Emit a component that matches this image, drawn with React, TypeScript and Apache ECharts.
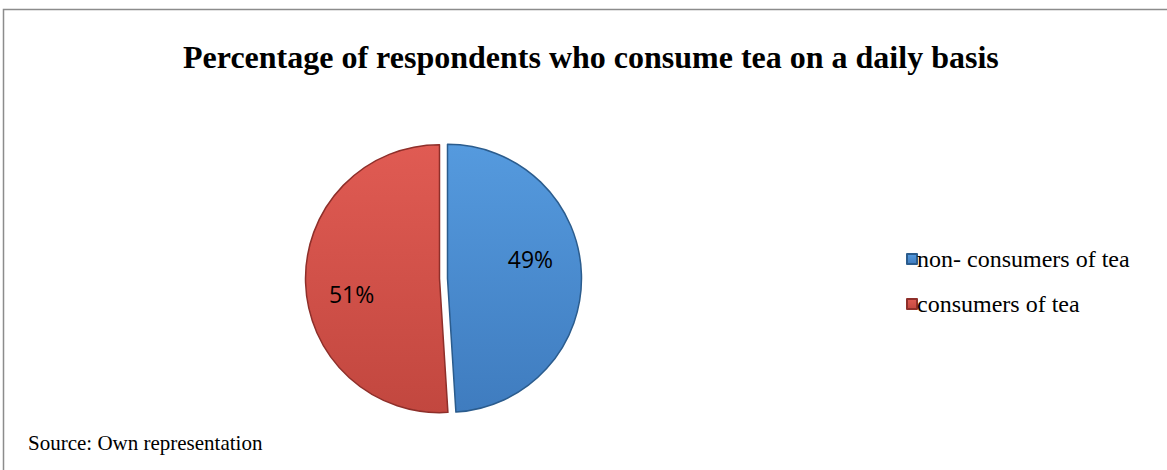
import React, { useEffect, useRef } from "react";
import * as echarts from "echarts";

const TITLE = "Percentage of respondents who consume tea on a daily basis";
const SOURCE = "Source: Own representation";
const categories = ["non- consumers of tea", "consumers of tea"];
const values = [49, 51];

const SERIF = "'Liberation Serif', 'Times New Roman', serif";

export default function App() {
  const ref = useRef<HTMLDivElement>(null);
  useEffect(() => {
    if (!ref.current) return;
    const chart = echarts.init(ref.current, null, { renderer: "svg" });
    const fills = [
      new echarts.graphic.LinearGradient(0, 0, 0, 1, [
        { offset: 0, color: "#559ade" },
        { offset: 1, color: "#3f7cbf" },
      ]),
      new echarts.graphic.LinearGradient(0, 0, 0, 1, [
        { offset: 0, color: "#e05b53" },
        { offset: 1, color: "#c2473f" },
      ]),
    ];
    const borders = ["#2b5c8d", "#8e2f2a"];
    chart.setOption({
      animation: false,
      backgroundColor: "#ffffff",
      title: {
        text: TITLE,
        left: 178,
        top: 36,
        textStyle: { fontFamily: SERIF, fontSize: 32, fontWeight: "bold", color: "#000" },
      },
      legend: {
        orient: "vertical",
        left: 901,
        top: 242,
        icon: "rect",
        itemWidth: 10,
        itemHeight: 10,
        itemGap: 21,
        selectedMode: false,
        textStyle: { fontFamily: SERIF, fontSize: 24, lineHeight: 24, color: "#000", padding: [0, 0, 0, -5] },
        data: categories,
      },
      graphic: [
        {
          type: "rect",
          shape: { x: 3.5, y: 9.5, width: 1180, height: 480 },
          style: { fill: "none", stroke: "#8c8c8c", lineWidth: 1.5 },
          silent: true,
        },
        {
          type: "text",
          left: 28,
          top: 432,
          style: { text: SOURCE, font: `21px ${SERIF}`, fill: "#000" },
        },
      ],
      series: [
        {
          type: "pie",
          center: [443.5, 278.5],
          radius: 134,
          startAngle: 90,
          clockwise: true,
          selectedMode: "multiple",
          selectedOffset: 4,
          label: {
            show: true,
            position: "inside",
            formatter: "{d}%",
            fontFamily: "'Open Sans', 'Noto Sans', sans-serif",
            fontSize: 23,
            color: "#000",
          },
          labelLine: { show: false },
          labelLayout: (p: any) => (p.dataIndex === 0 ? { dx: 13, dy: -17 } : { dx: -18, dy: 13 }),
          emphasis: { disabled: true },
          data: categories.map((name, i) => ({
            name,
            value: values[i],
            selected: true,
            itemStyle: {
              color: fills[i],
              borderColor: borders[i],
              borderWidth: 1.5,
            },
          })),
        },
      ],
    });
    return () => chart.dispose();
  }, []);
  return (
    <div
      ref={ref}
      style={{ position: "fixed", left: 0, top: 0, width: 1167, height: 470 }}
    />
  );
}
